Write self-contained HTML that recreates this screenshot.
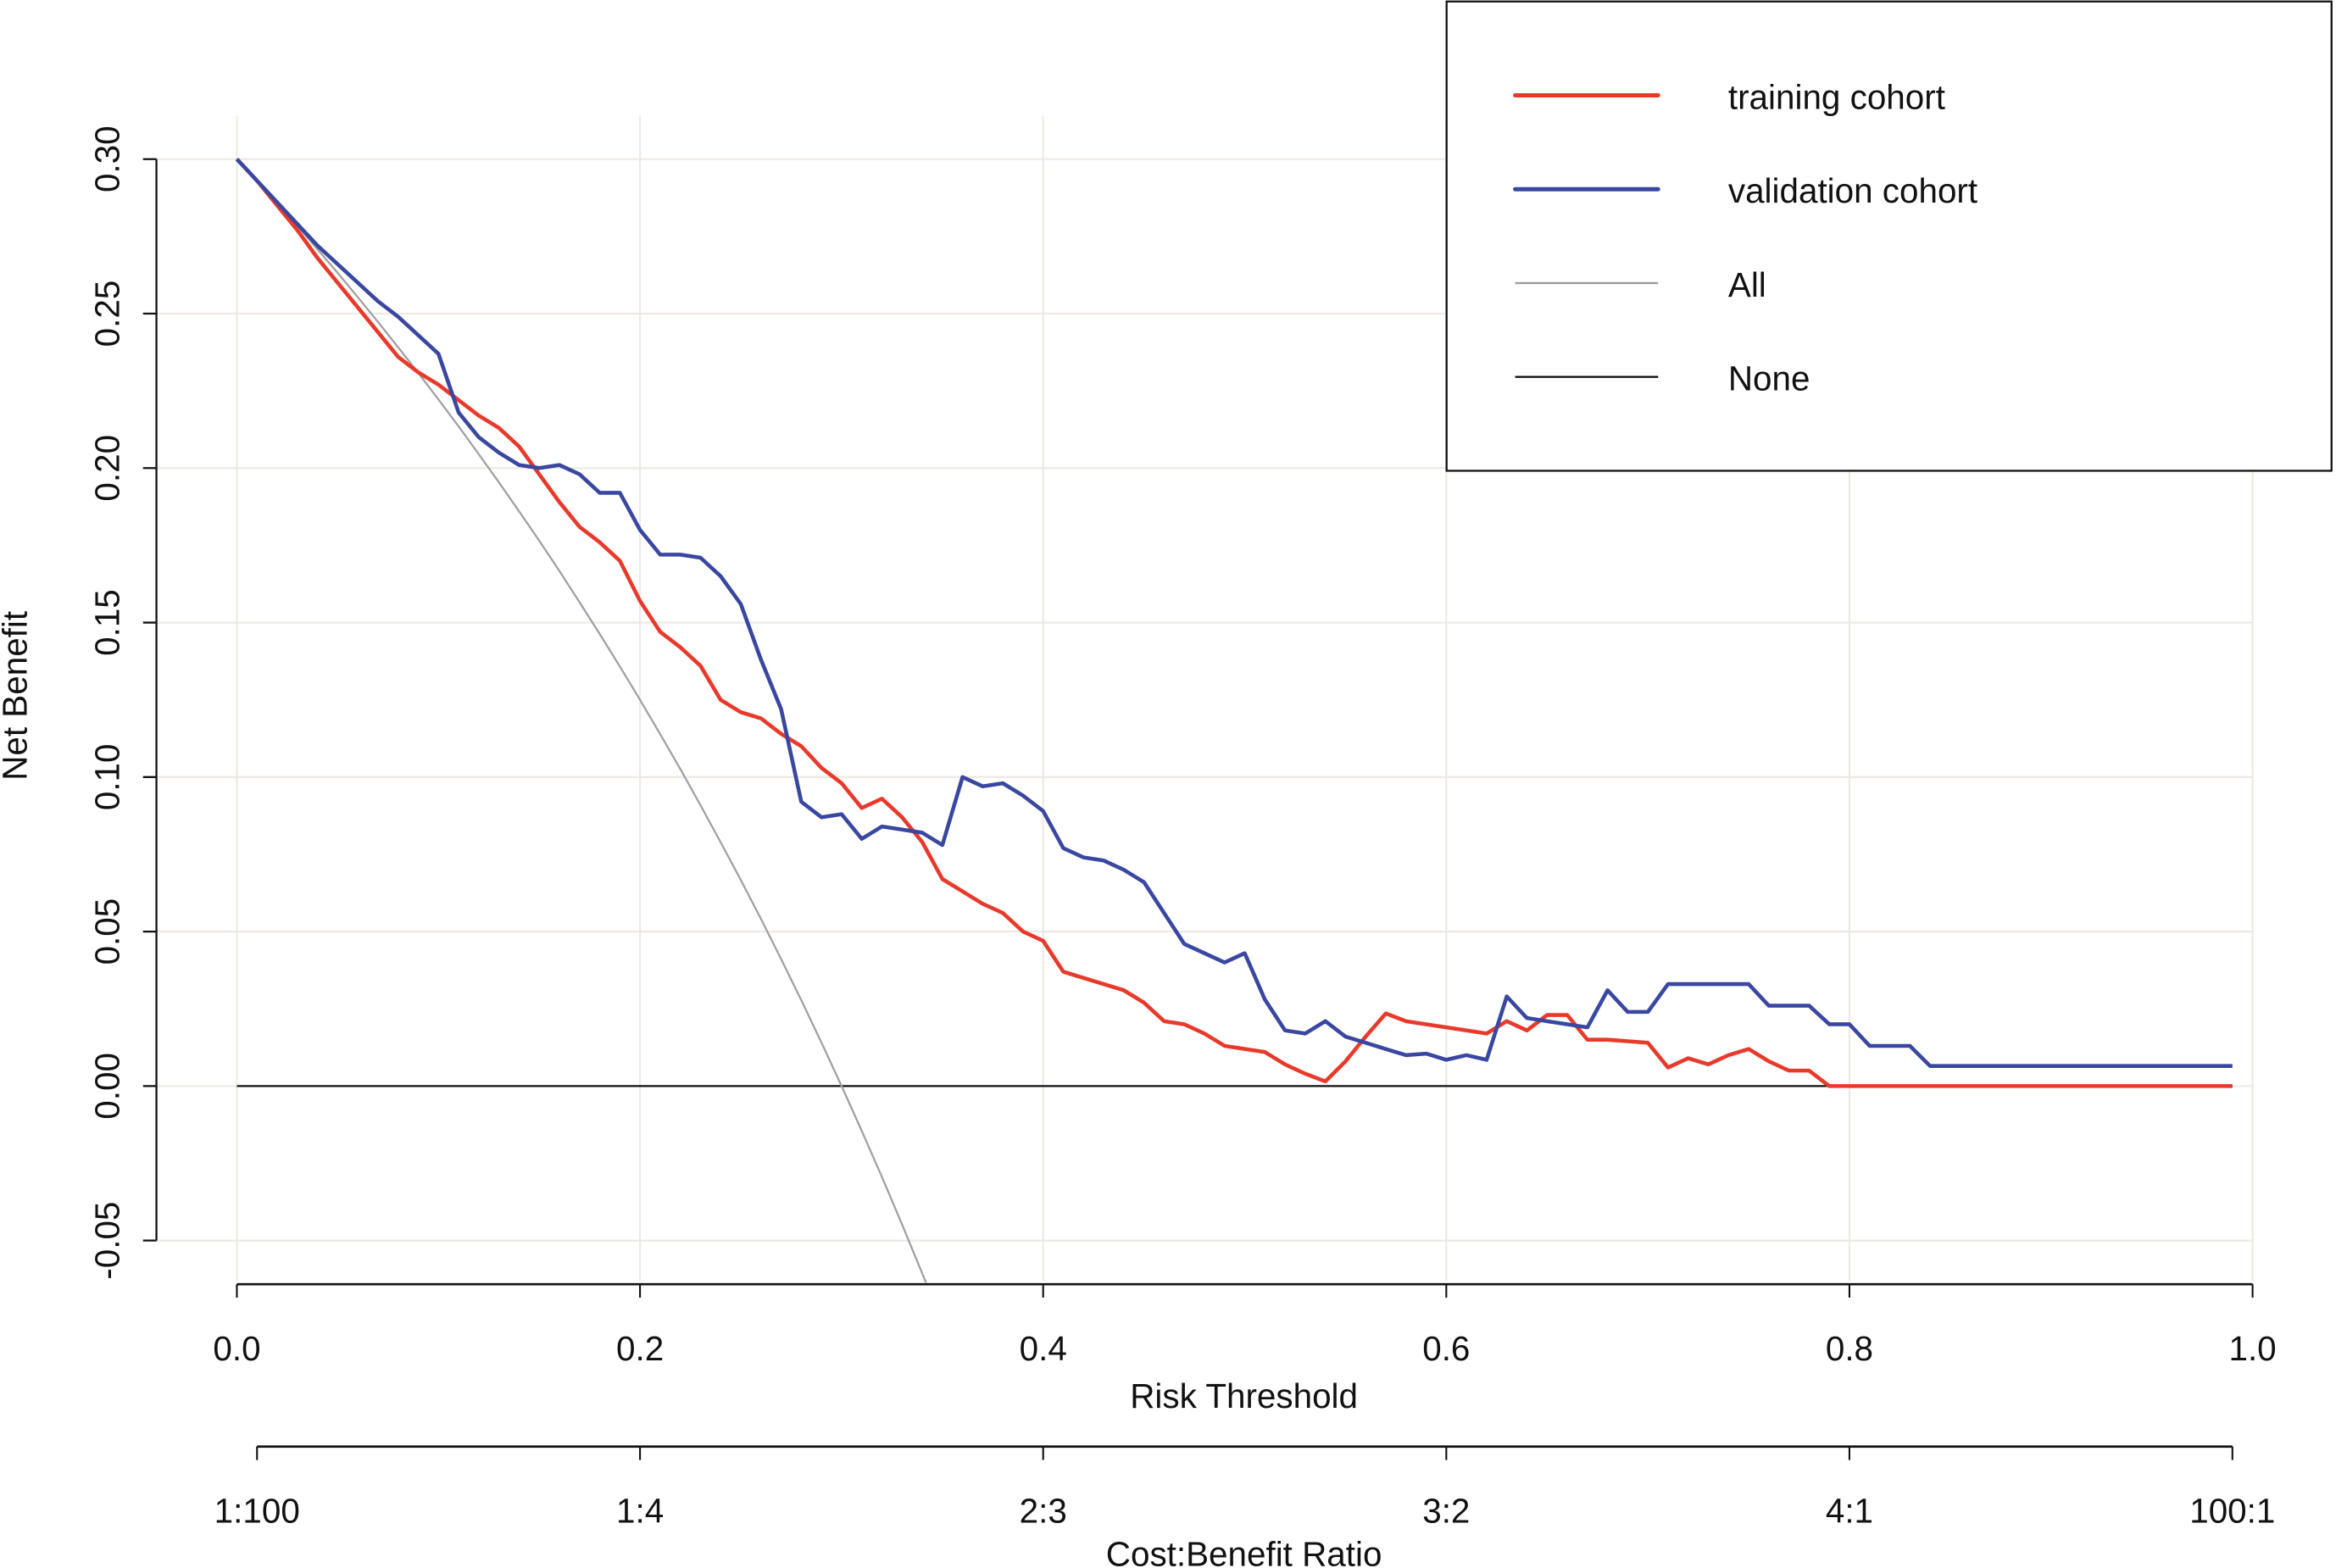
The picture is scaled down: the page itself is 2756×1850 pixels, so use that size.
<!DOCTYPE html>
<html><head><meta charset="utf-8">
<style>
html,body{margin:0;padding:0;background:#fff;}
svg{display:block;}
text{font-family:"Liberation Sans",Arial,sans-serif;fill:#111;}
</style></head>
<body>
<svg id="chart" width="2756" height="1850" viewBox="0 0 1568 1052.5" preserveAspectRatio="none" xmlns="http://www.w3.org/2000/svg">
<defs><clipPath id="clipAll"><rect x="100" y="0" width="1500" height="861"/></clipPath></defs>
<g id="grid"></g>
<g id="axes"></g>
<g id="series"></g>
<g>
  <rect x="971" y="1" width="594" height="315" fill="#fff" stroke="#111" stroke-width="1.3"/>
  <line x1="1017" y1="64" x2="1113" y2="64" stroke="#e8392b" stroke-width="2.8" stroke-linecap="round"/>
  <text x="1160" y="73" font-size="23">training cohort</text>
  <line x1="1017" y1="127" x2="1113" y2="127" stroke="#3a47a0" stroke-width="2.8" stroke-linecap="round"/>
  <text x="1160" y="136" font-size="23">validation cohort</text>
  <line x1="1017" y1="190" x2="1113" y2="190" stroke="#999" stroke-width="1.3"/>
  <text x="1160" y="199" font-size="23">All</text>
  <line x1="1017" y1="253" x2="1113" y2="253" stroke="#111" stroke-width="1.3"/>
  <text x="1160" y="262" font-size="23">None</text>
</g>
</svg>
<script>
const xTicks=[0,0.2,0.4,0.6,0.8,1.0];
const xTickLabels=["0.0","0.2","0.4","0.6","0.8","1.0"];
const yTicks=[-0.05,0,0.05,0.10,0.15,0.20,0.25,0.30];
const yTickLabels=["-0.05","0.00","0.05","0.10","0.15","0.20","0.25","0.30"];
const costTicks=[0.01,0.2,0.4,0.6,0.8,0.99];
const costLabels=["1:100","1:4","2:3","3:2","4:1","100:1"];
const training=[0.300,0.293,0.285,0.277,0.268,0.260,0.252,0.244,0.236,0.231,0.227,0.222,0.217,0.213,0.207,0.198,0.189,0.181,0.176,0.170,0.157,0.147,0.142,0.136,0.125,0.121,0.119,0.114,0.110,0.103,0.098,0.090,0.093,0.087,0.079,0.067,0.063,0.059,0.056,0.050,0.047,0.037,0.035,0.033,0.031,0.027,0.021,0.020,0.017,0.013,0.012,0.011,0.007,0.004,0.0015,0.008,0.016,0.0235,0.021,0.020,0.019,0.018,0.017,0.021,0.018,0.023,0.023,0.015,0.015,0.0145,0.014,0.006,0.009,0.007,0.010,0.012,0.008,0.005,0.005,0,0,0,0,0,0,0,0,0,0,0,0,0,0,0,0,0,0,0,0,0];
const validation=[0.300,0.293,0.286,0.279,0.272,0.266,0.260,0.254,0.249,0.243,0.237,0.218,0.210,0.205,0.201,0.200,0.201,0.198,0.192,0.192,0.180,0.172,0.172,0.171,0.165,0.156,0.138,0.122,0.092,0.087,0.088,0.080,0.084,0.083,0.082,0.078,0.100,0.097,0.098,0.094,0.089,0.077,0.074,0.073,0.070,0.066,0.056,0.046,0.043,0.040,0.043,0.028,0.018,0.017,0.021,0.016,0.014,0.012,0.010,0.0105,0.0085,0.010,0.0085,0.029,0.022,0.021,0.020,0.019,0.031,0.024,0.024,0.033,0.033,0.033,0.033,0.033,0.026,0.026,0.026,0.020,0.020,0.013,0.013,0.013,0.0065,0.0065,0.0065,0.0065,0.0065,0.0065,0.0065,0.0065,0.0065,0.0065,0.0065,0.0065,0.0065,0.0065,0.0065,0.0065];
const thresholds=training.map((_,i)=>i/100);
const allY=[0.300,0.2929,0.2857,0.2784,0.2708,0.2632,0.2553,0.2473,0.2391,0.2308,0.2222,0.2135,0.2045,0.1954,0.1860,0.1765,0.1667,0.1566,0.1463,0.1358,0.125,0.1139,0.1026,0.0909,0.0789,0.0667,0.0541,0.0411,0.0278,0.0141,0.0,-0.0145,-0.0294,-0.0448,-0.0606,-0.0769];
const allX=allY.map((_,i)=>i/100);

const NS="http://www.w3.org/2000/svg";
const X=v=>159+v*1353;
const Y=v=>729-v*2074;
function mk(tag,attrs,parent){const e=document.createElementNS(NS,tag);for(const k in attrs)e.setAttribute(k,attrs[k]);parent.appendChild(e);return e;}
const grid=document.getElementById('grid'),axes=document.getElementById('axes'),ser=document.getElementById('series');
const FS=23;

xTicks.forEach((t)=>{const l=mk('line',{x1:X(t),x2:X(t),y1:78,y2:860,stroke:'#eee8e4','stroke-width':1.2},grid);

});
yTicks.forEach(t=>{const l=mk('line',{x1:105,x2:1512,y1:Y(t),y2:Y(t),stroke:'#eee8e4','stroke-width':1.2},grid);

});

let ya=mk('line',{x1:105,x2:105,y1:Y(0.30),y2:Y(-0.05),stroke:'#111','stroke-width':1.3},axes);


yTicks.forEach((t,i)=>{mk('line',{x1:96,x2:105,y1:Y(t),y2:Y(t),stroke:'#111','stroke-width':1.3},axes);
const tx=mk('text',{x:0,y:0,'font-size':FS,'text-anchor':'middle',transform:`translate(80,${Y(t)}) rotate(-90)`},axes);tx.textContent=yTickLabels[i];

});
const yt=mk('text',{x:0,y:0,'font-size':FS,'text-anchor':'middle',transform:'translate(18,467) rotate(-90)'},axes);yt.textContent='Net Benefit';



let xa=mk('line',{x1:X(0),x2:X(1),y1:862,y2:862,stroke:'#111','stroke-width':1.5},axes);


xTicks.forEach((t,i)=>{mk('line',{x1:X(t),x2:X(t),y1:862,y2:871,stroke:'#111','stroke-width':1.2},axes);
const tx=mk('text',{x:X(t),y:913,'font-size':FS,'text-anchor':'middle'},axes);tx.textContent=xTickLabels[i];

});
const xt=mk('text',{x:835,y:945,'font-size':FS,'text-anchor':'middle'},axes);xt.textContent='Risk Threshold';



let ca=mk('line',{x1:X(0.01),x2:X(0.99),y1:971,y2:971,stroke:'#111','stroke-width':1.5},axes);


costTicks.forEach((t,i)=>{mk('line',{x1:X(t),x2:X(t),y1:971,y2:980,stroke:'#111','stroke-width':1.2},axes);
const tx=mk('text',{x:X(t),y:1022,'font-size':FS,'text-anchor':'middle'},axes);tx.textContent=costLabels[i];

});
const ct=mk('text',{x:835,y:1051,'font-size':FS,'text-anchor':'middle'},axes);ct.textContent='Cost:Benefit Ratio';



const none=mk('line',{x1:X(0),x2:X(0.99),y1:Y(0),y2:Y(0),stroke:'#111','stroke-width':1.3},ser);


const allP=mk('polyline',{points:allX.map((x,i)=>X(x)+','+Y(allY[i])).join(' '),fill:'none',stroke:'#a0a0a0','stroke-width':1.3,'clip-path':'url(#clipAll)'},ser);


const tr=mk('polyline',{points:thresholds.map((x,i)=>X(x)+','+Y(training[i])).join(' '),fill:'none',stroke:'#e8392b','stroke-width':2.6,'stroke-linejoin':'round'},ser);


const va=mk('polyline',{points:thresholds.map((x,i)=>X(x)+','+Y(validation[i])).join(' '),fill:'none',stroke:'#3a47a0','stroke-width':2.6,'stroke-linejoin':'round'},ser);


</script>
</body></html>
